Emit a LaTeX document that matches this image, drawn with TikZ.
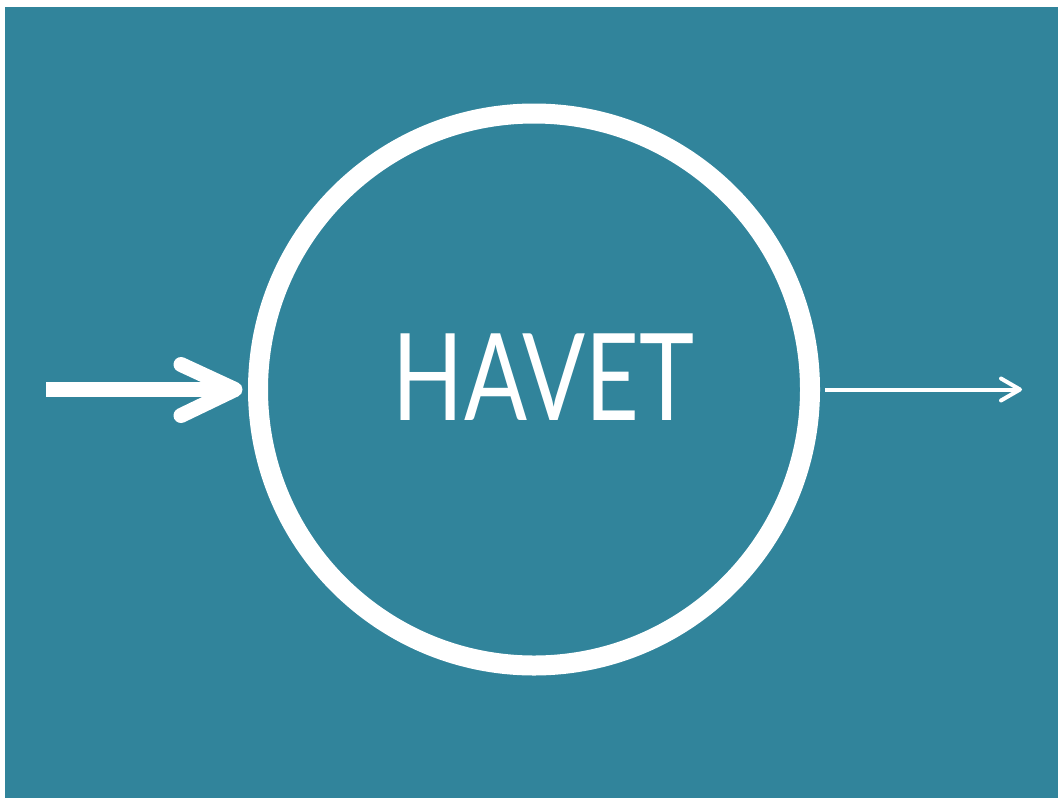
\documentclass[tikz,border=0pt]{standalone}
\usepackage{fontspec}
\setmainfont{Lato}
\usetikzlibrary{calc}
\definecolor{tealbg}{HTML}{31849B}
\tikzset{
  ring/.style={circle, draw=white, line width=20pt, minimum size=552pt, inner sep=0pt},
  thickarrow/.style={draw=white, line width=15pt},
  thinarrow/.style={draw=white, line width=4pt},
  label/.style={text=white, font=\fontsize{121}{121}\selectfont, inner sep=0pt}
}
\begin{document}
\begin{tikzpicture}[x=1pt,y=-1pt]
\useasboundingbox (0,0) rectangle (1059,798);
\fill[white] (0,0) rectangle (1059,798);
\fill[tealbg] (5,7) rectangle (1058,798);
\node[ring] (c) at (534,389.5) {};
\node[label, anchor=base] (t) at (543.5,420) {\scalebox{0.77}[1]{HAVET}};
% left arrow
\coordinate (ls) at (46,389.5);
\coordinate (lt) at ($(c.west)+(-13,0)$);
\draw[thickarrow, line cap=butt] (ls) -- (lt);
\draw[thickarrow, line cap=round, line join=round] ($(lt)+(-54,-25)$) -- (lt) -- ($(lt)+(-54,26)$);
% right arrow
\coordinate (rs) at ($(c.east)+(5,0)$);
\coordinate (rt) at (1020,389.5);
\draw[thinarrow, line cap=butt] (rs) -- (rt);
\draw[thinarrow, line cap=round, line join=round] ($(rt)+(-19,-11)$) -- (rt) -- ($(rt)+(-19,11)$);
\end{tikzpicture}
\end{document}
